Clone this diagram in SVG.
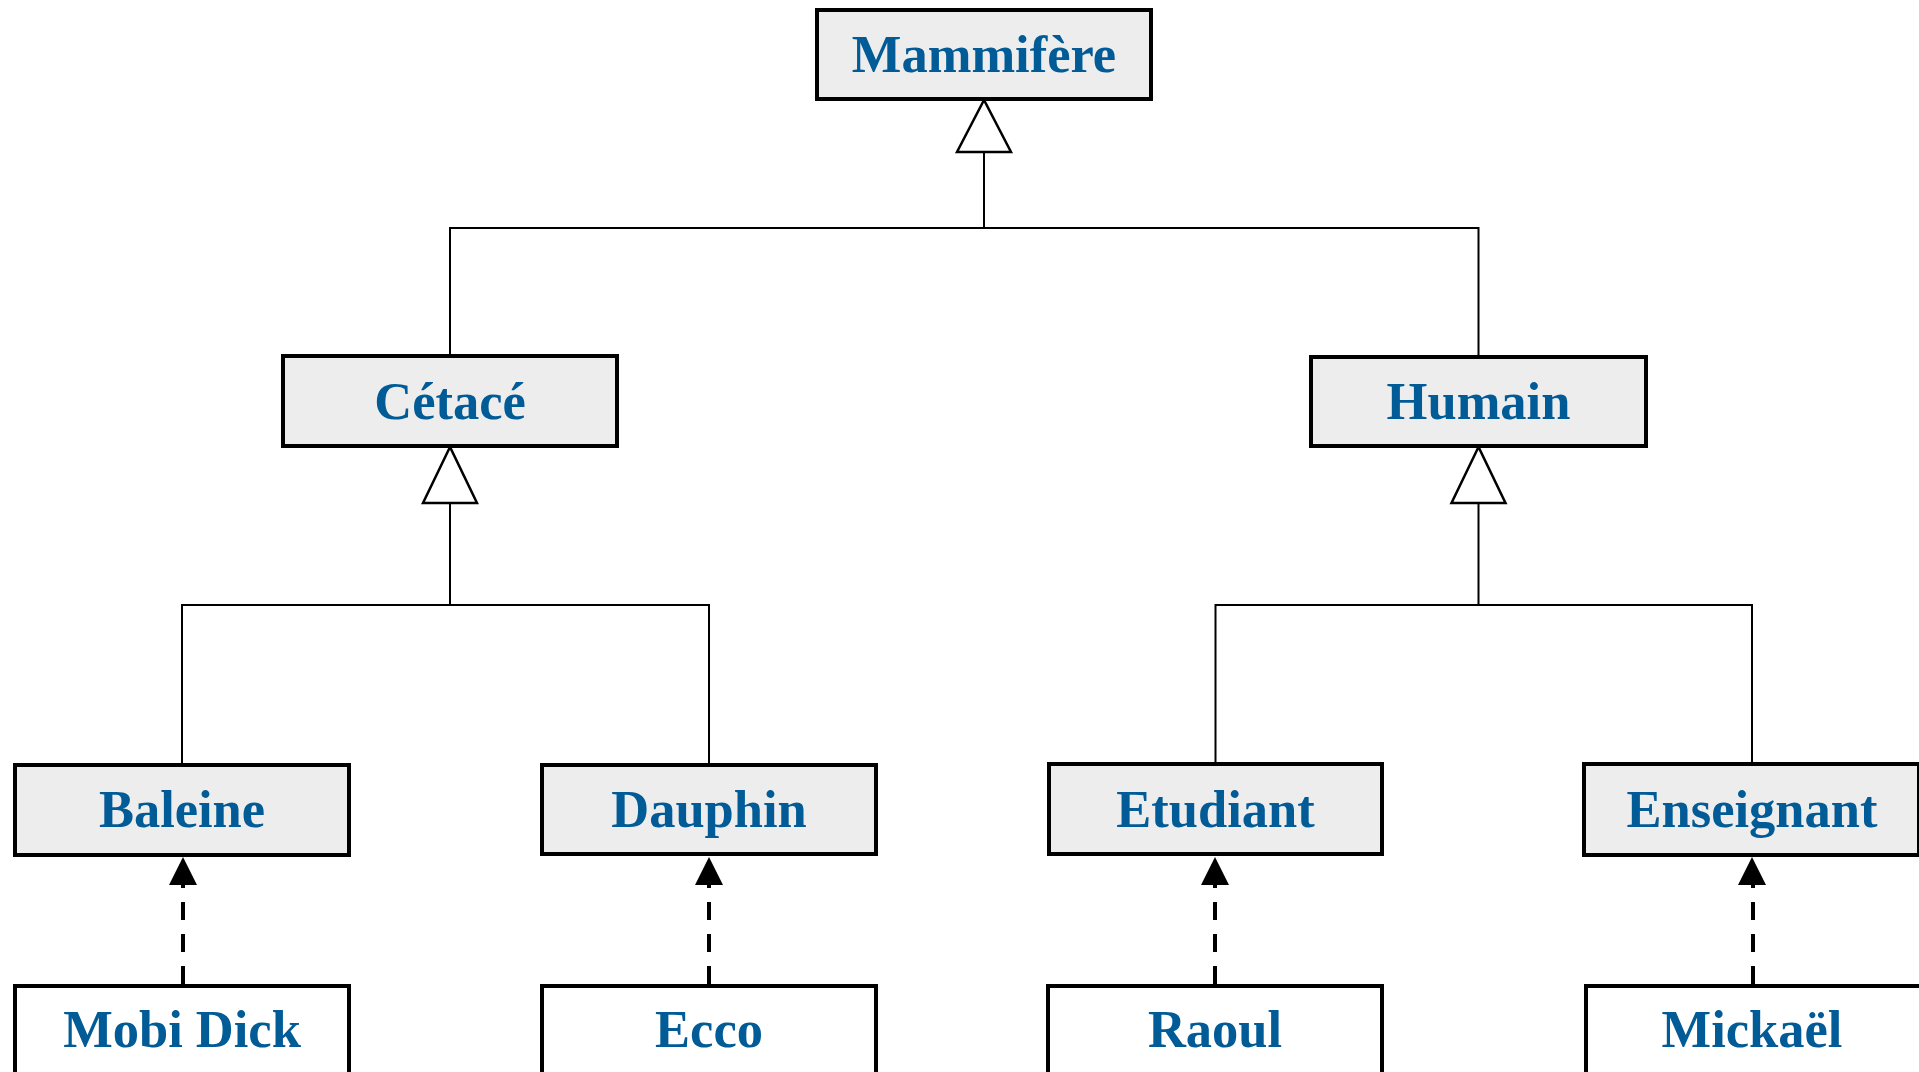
<svg xmlns="http://www.w3.org/2000/svg" width="1919" height="1072" viewBox="0 0 1919 1072">
<style>
.cls{fill:#ededed;stroke:#000;stroke-width:4}
.obj{fill:#fff;stroke:#000;stroke-width:4}
.lbl{font-family:"Liberation Serif","Times New Roman",serif;font-weight:bold;font-size:52.5px;fill:#005b96;text-anchor:middle}
.gen{fill:none;stroke:#000;stroke-width:2}
.tri{fill:#fff;stroke:#000;stroke-width:2.5;stroke-linejoin:miter}
.dep{fill:none;stroke:#000;stroke-width:4;stroke-dasharray:18 14}
.head{fill:#000;stroke:none}
</style>
<rect width="1919" height="1072" fill="#fff"/>
<g id="connectors">
<path class="gen" d="M450 356 V228 H1478.5 V357 M984 228 V152"/>
<polygon class="tri" points="984,100 957,152 1011,152"/>
<path class="gen" d="M182 765 V605 H709 V765 M450 605 V503"/>
<polygon class="tri" points="450,447 423,503 477,503"/>
<path class="gen" d="M1215.5 764 V605 H1752 V764 M1478.5 605 V503"/>
<polygon class="tri" points="1478.5,447 1451.5,503 1505.5,503"/>
<path class="dep" d="M183 984 V885"/>
<polygon class="head" points="183,857 169,885 197,885"/>
<path class="dep" d="M709 984 V885"/>
<polygon class="head" points="709,857 695,885 723,885"/>
<path class="dep" d="M1215 984 V885"/>
<polygon class="head" points="1215,857 1201,885 1229,885"/>
<path class="dep" d="M1753 984 V885"/>
<polygon class="head" points="1752,857 1738,885 1766,885"/>
</g>
<g id="mammifere"><rect class="cls" x="817" y="10" width="334" height="89"/><text class="lbl" x="984" y="72">Mammifère</text></g>
<g id="cetace"><rect class="cls" x="283" y="356" width="334" height="90"/><text class="lbl" x="450" y="418.5">Cétacé</text></g>
<g id="humain"><rect class="cls" x="1311" y="357" width="335" height="89"/><text class="lbl" x="1478.5" y="418.5">Humain</text></g>
<g id="baleine"><rect class="cls" x="15" y="765" width="334" height="90"/><text class="lbl" x="182" y="827">Baleine</text></g>
<g id="dauphin"><rect class="cls" x="542" y="765" width="334" height="89"/><text class="lbl" x="709" y="827">Dauphin</text></g>
<g id="etudiant"><rect class="cls" x="1049" y="764" width="333" height="90"/><text class="lbl" x="1215.5" y="827">Etudiant</text></g>
<g id="enseignant"><rect class="cls" x="1584" y="764" width="335" height="91"/><text class="lbl" x="1752" y="827">Enseignant</text></g>
<g id="mobidick"><rect class="obj" x="15" y="986" width="334" height="110"/><text class="lbl" x="182" y="1047">Mobi Dick</text></g>
<g id="ecco"><rect class="obj" x="542" y="986" width="334" height="110"/><text class="lbl" x="709" y="1047">Ecco</text></g>
<g id="raoul"><rect class="obj" x="1048" y="986" width="334" height="110"/><text class="lbl" x="1215" y="1047">Raoul</text></g>
<g id="mickael"><rect class="obj" x="1586" y="986" width="335" height="110"/><text class="lbl" x="1752" y="1047">Mickaël</text></g>
</svg>
